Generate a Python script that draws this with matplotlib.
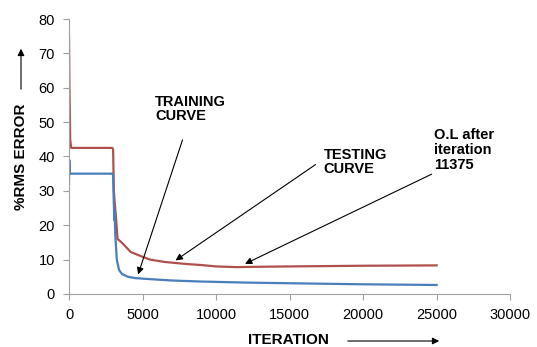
import matplotlib.pyplot as plt

plt.rcParams['font.family'] = ['Liberation Sans', 'DejaVu Sans']

# Training curve (blue)
train_iter = [0, 20, 60, 2950, 3000, 3050, 3080, 3100, 3150, 3250, 3400, 3600, 4000,
              4500, 5500, 7000, 9000, 12000, 15000, 20000, 25000]
train_err = [32, 39, 35, 35, 34.5, 26, 21.5, 24, 17, 10, 7, 5.8, 5.0,
             4.6, 4.3, 3.9, 3.6, 3.3, 3.1, 2.8, 2.6]

# Testing curve (red)
test_iter = [0, 30, 80, 150, 2950, 3000, 3050, 3100, 3200, 3300, 3500, 3800, 4200,
             5000, 5500, 6500, 8000, 9000, 10000, 11375, 13000, 15000, 17500,
             20000, 22500, 25000]
test_err = [75, 60, 45, 42.5, 42.5, 42, 30, 27, 22, 16, 15.3, 14, 12.2,
            10.8, 10, 9.3, 8.7, 8.4, 8.0, 7.8, 7.9, 8.0, 8.1, 8.2, 8.25, 8.3]

xticks = [0, 5000, 10000, 15000, 20000, 25000, 30000]
yticks = [0, 10, 20, 30, 40, 50, 60, 70, 80]

fig = plt.figure(figsize=(5.37, 3.47), dpi=100)
ax = fig.add_axes([0.1285, 0.153, 0.8215, 0.792])

ax.plot(test_iter, test_err, color='#B0504E', lw=1.6)
ax.plot(train_iter, train_err, color='#4A7EBB', lw=1.6)

ax.set_xlim(0, 30000)
ax.set_ylim(0, 80)
ax.set_xticks(xticks)
ax.set_yticks(yticks)
ax.tick_params(labelsize=10.5, color='#A0A0A0', length=4, direction='out', pad=6)
for s in ['top', 'right']:
    ax.spines[s].set_visible(False)
for s in ['left', 'bottom']:
    ax.spines[s].set_color('#A0A0A0')

arrow = dict(arrowstyle='-|>', color='black', lw=0.8, mutation_scale=10)
ax.annotate('', xy=(4640, 4.9), xytext=(7780, 45.6), arrowprops=arrow)
ax.annotate('', xy=(7090, 9.3), xytext=(16920, 38.1), arrowprops=arrow)
ax.annotate('', xy=(11800, 8.4), xytext=(24830, 35.2), arrowprops=arrow)

ax.text(5870, 53.8, 'TRAINING\nCURVE', fontsize=10.5, fontweight='bold',
        va='center', ha='left', linespacing=1.05)
ax.text(17330, 38.4, 'TESTING\nCURVE', fontsize=10.5, fontweight='bold',
        va='center', ha='left', linespacing=1.05)
ax.text(24830, 41.9, 'O.L after\niteration\n11375', fontsize=10.5, fontweight='bold',
        va='center', ha='left', linespacing=1.05)

# axis labels with arrows
fig.text(21 / 537, 1 - 157 / 347, '%RMS ERROR', rotation=90, fontsize=11,
         fontweight='bold', ha='center', va='center')
fig.text(288 / 537, 1 - 340 / 347, 'ITERATION', fontsize=11,
         fontweight='bold', ha='center', va='center')
fig.add_artist(plt.Annotation('', xy=(21 / 537, 1 - 46 / 347), xycoords='figure fraction',
                              xytext=(21 / 537, 1 - 92 / 347), textcoords='figure fraction',
                              arrowprops=arrow))
fig.add_artist(plt.Annotation('', xy=(442 / 537, 1 - 341 / 347), xycoords='figure fraction',
                              xytext=(345 / 537, 1 - 341 / 347), textcoords='figure fraction',
                              arrowprops=arrow))

fig.savefig('out.png', dpi=100)
